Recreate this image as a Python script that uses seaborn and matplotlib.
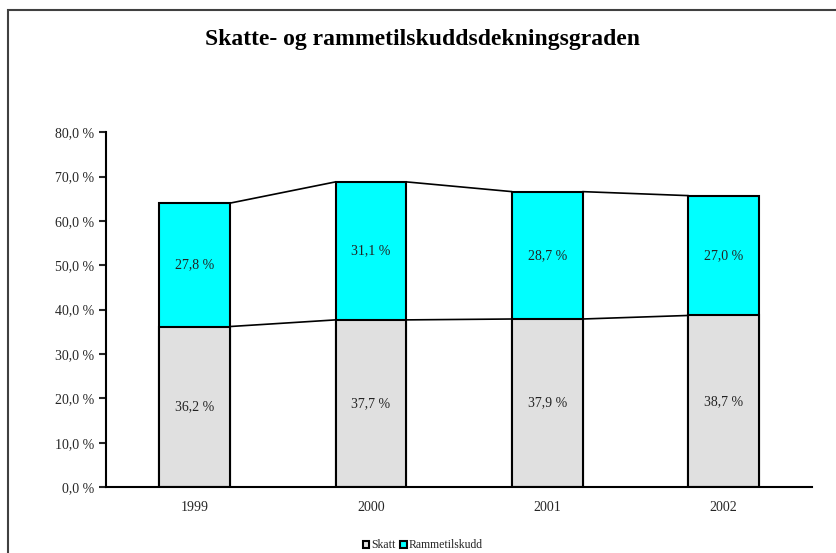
import numpy as np
import pandas as pd
import matplotlib
matplotlib.use("Agg")
import matplotlib.pyplot as plt
from matplotlib.patches import Rectangle, Patch
import seaborn as sns

years = ["1999", "2000", "2001", "2002"]
skatt = [36.2, 37.7, 37.9, 38.7]
ramme = [27.8, 31.1, 28.7, 27.0]
yticks = [0, 10, 20, 30, 40, 50, 60, 70, 80]

sns.set_style("white")
plt.rcParams["font.family"] = ["Liberation Serif", "DejaVu Serif"]

df = pd.DataFrame({"year": years, "Skatt": skatt, "Rammetilskudd": ramme})
df["total"] = df["Skatt"] + df["Rammetilskudd"]

fig = plt.figure(figsize=(8.37, 5.53), dpi=100)
ax = fig.add_axes([0.127, 0.119, 0.843, 0.642])

bw = 0.4
sns.barplot(data=df, x="year", y="total", color="#00FFFF", saturation=1,
            width=bw, edgecolor="black", linewidth=1.5, ax=ax)
sns.barplot(data=df, x="year", y="Skatt", color="#E0E0E0", saturation=1,
            width=bw, edgecolor="black", linewidth=1.5, ax=ax)

# series lines between bars
x = np.arange(len(years))
for level in [df["Skatt"].values, df["total"].values]:
    for i in range(len(years) - 1):
        ax.plot([x[i] + bw / 2, x[i + 1] - bw / 2], [level[i], level[i + 1]],
                color="black", lw=1.2, zorder=1)

# data labels
for i in range(len(years)):
    ax.text(x[i], skatt[i] / 2, f"{skatt[i]:.1f} %".replace(".", ","),
            ha="center", va="center", fontsize=10, color="#222222")
    ax.text(x[i], skatt[i] + ramme[i] / 2, f"{ramme[i]:.1f} %".replace(".", ","),
            ha="center", va="center", fontsize=10, color="#222222")

ax.set_ylim(0, 80)
ax.set_xlim(-0.5, len(years) - 0.5)
ax.set_yticks(yticks)
ax.set_yticklabels([f"{v:.1f} %".replace(".", ",") for v in yticks], fontsize=10)
ax.set_xticks(x)
ax.set_xticklabels(years, fontsize=10)
ax.set_xticks(np.arange(len(years) + 1) - 0.5, minor=True)
ax.tick_params(axis="x", which="major", length=0, pad=10)
ax.tick_params(axis="x", which="minor", length=5, width=1.5, direction="out")
ax.tick_params(axis="y", length=5, width=1.5, direction="out", left=True, pad=4)
ax.set_xlabel("")
ax.set_ylabel("")
for s in ["top", "right"]:
    ax.spines[s].set_visible(False)
for s in ["left", "bottom"]:
    ax.spines[s].set_linewidth(1.5)
    ax.spines[s].set_color("black")

fig.text(0.505, 0.928, "Skatte- og rammetilskuddsdekningsgraden",
         ha="center", va="center", fontsize=17, fontweight="bold", color="black")

handles = [Patch(facecolor="#E0E0E0", edgecolor="black", lw=1.5, label="Skatt"),
           Patch(facecolor="#00FFFF", edgecolor="black", lw=1.5, label="Rammetilskudd")]
fig.legend(handles=handles, loc="center", bbox_to_anchor=(0.505, 0.014), ncol=2,
           frameon=False, fontsize=8.5, handlelength=0.55, handleheight=0.55,
           handletextpad=0.15, columnspacing=0.4)

fig.patches.append(Rectangle((8 / 837, -0.1), 1.0, 1 - 10 / 553 + 0.1,
                             transform=fig.transFigure, fill=False,
                             edgecolor="#404040", lw=1.5))

fig.savefig("out.png", dpi=100)
